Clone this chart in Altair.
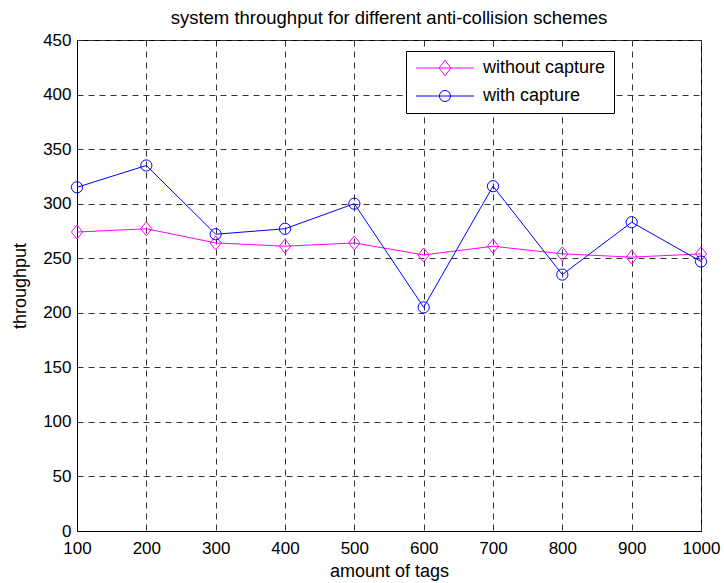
import altair as alt
import pandas as pd

tags = [100, 200, 300, 400, 500, 600, 700, 800, 900, 1000]
without_capture = [274, 277, 264, 261, 264, 253, 261, 254, 251, 254]
with_capture = [315, 335, 272, 277, 300, 205, 316, 235, 283, 247]
series_names = ["without capture", "with capture"]
series_colors = ["#ff00ff", "#0000ff"]
y_ticks = [0, 50, 100, 150, 200, 250, 300, 350, 400, 450]

marker_paths = [
    "M0,-1L0.8,0L0,1L-0.8,0Z",
    "M0.8,0A0.8,0.8,0,1,1,-0.8,0A0.8,0.8,0,1,1,0.8,0Z",
]
# legend symbols: line segment with the marker in its middle (units of 7 px)
legend_paths = [
    "M-1,0L7.29,0M3.14,-1.1L3.98,0L3.14,1.1L2.3,0Z",
    "M-1,0L7.29,0M3.93,0A0.79,0.79,0,1,1,2.35,0A0.79,0.79,0,1,1,3.93,0Z",
]

rows = []
for name, vals in zip(series_names, [without_capture, with_capture]):
    for t, v in zip(tags, vals):
        rows.append({"tags": t, "throughput": v, "series": name})
df = pd.DataFrame(rows)

FONT = "Liberation Sans"

x = alt.X(
    "tags:Q",
    scale=alt.Scale(domain=[100, 1000], nice=False, zero=False),
    axis=alt.Axis(
        values=tags, title="amount of tags", labelFlush=False, labelOverlap=False,
        labelPadding=9, titleY=40, titleBaseline="middle", format="d",
    ),
)
y = alt.Y(
    "throughput:Q",
    scale=alt.Scale(domain=[0, 450], nice=False),
    axis=alt.Axis(
        values=y_ticks, title="throughput", labelPadding=6, labelOverlap=False,
        titleX=-57, titleY=245.5, titleBaseline="middle", format="d",
    ),
)
color_scale = alt.Scale(domain=series_names, range=series_colors)

legend = alt.Legend(
    title=None, orient="none", legendX=329, legendY=11,
    labelFont=FONT, labelFontSize=18, labelColor="black", labelOffset=51,
    strokeColor="black", fillColor="white", padding=8, rowPadding=9,
    symbolSize=196, symbolStrokeWidth=1, cornerRadius=0,
)

base = alt.Chart(df)

lines = base.mark_line(strokeWidth=1).encode(
    x=x, y=y,
    color=alt.Color("series:N", scale=color_scale, legend=None),
)
points = base.mark_point(filled=False, size=196, strokeWidth=1, opacity=1).encode(
    x=x, y=y,
    color=alt.Color("series:N", scale=color_scale, legend=None),
    shape=alt.Shape("series:N", scale=alt.Scale(domain=series_names, range=marker_paths), legend=None),
)
legend_layer = base.transform_filter("false").mark_point(
    filled=False, size=196, strokeWidth=1, opacity=1
).encode(
    x=x, y=y,
    color=alt.Color("series:N", scale=color_scale, legend=legend),
    shape=alt.Shape("series:N", scale=alt.Scale(domain=series_names, range=legend_paths), legend=legend),
)

chart = (
    alt.layer(lines, points, legend_layer)
    .resolve_scale(color="independent", shape="independent")
    .properties(
        width=624, height=491,
        title=alt.Title(
            "system throughput for different anti-collision schemes",
            font=FONT, fontSize=18.5, fontWeight="normal", color="black", offset=4,
        ),
        padding={"left": 77, "top": 40, "right": 23, "bottom": 52},
        autosize=alt.AutoSizeParams(type="none"),
    )
    .configure(background="white")
    .configure_view(stroke="black", strokeWidth=1)
    .configure_axis(
        labelFont=FONT, labelFontSize=17, labelColor="black",
        titleFont=FONT, titleFontSize=18, titleColor="black", titleFontWeight="normal",
        domainColor="black", domainWidth=1, ticks=False,
        grid=True, gridColor="#333333", gridDash=[6, 5], gridWidth=1, gridOpacity=1,
    )
)

chart.save("out.html", embed_options={"renderer": "svg", "actions": False})
